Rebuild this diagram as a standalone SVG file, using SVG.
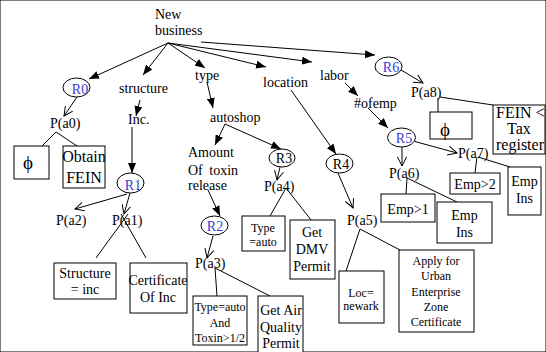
<svg xmlns="http://www.w3.org/2000/svg" width="546" height="352" viewBox="0 0 546 352">
<defs>
<marker id="fa" markerWidth="10" markerHeight="8" refX="10" refY="4" orient="auto" markerUnits="userSpaceOnUse"><path d="M0,0 L10,4 L0,8 z" fill="#000"/></marker>
<marker id="oa" markerWidth="10" markerHeight="10" refX="9" refY="5" orient="auto" markerUnits="userSpaceOnUse"><path d="M0,0.5 L9,5 L0,9.5" fill="none" stroke="#000" stroke-width="1"/></marker>
</defs>
<style>
text{font-family:"Liberation Serif","Times New Roman",serif;font-size:14px;fill:#000}
.s{font-size:12px}
.b{font-size:16px}
.r{fill:#3a3ad6}
.m{text-anchor:middle}
.phi{font-size:19px;text-anchor:middle}
ellipse,rect{fill:#fff;stroke:#000;stroke-width:1}
line{stroke:#000;stroke-width:1}
.f{marker-end:url(#fa)}
.o{marker-end:url(#oa)}
</style>
<rect width="546" height="352" fill="#fff"/>
<g id="connectors">
<line class="f" x1="168" y1="43" x2="89" y2="79"/>
<line class="f" x1="168" y1="43" x2="143" y2="75"/>
<line class="f" x1="168" y1="43" x2="205" y2="68"/>
<line class="f" x1="168" y1="43" x2="266" y2="67"/>
<line class="f" x1="168" y1="43" x2="312" y2="62"/>
<line class="f" x1="201" y1="42" x2="375" y2="55"/>
<line class="o" x1="77" y1="97" x2="64" y2="116"/>
<line x1="56" y1="132" x2="42" y2="146"/>
<line x1="56" y1="132" x2="77" y2="146"/>
<line class="f" x1="140" y1="100" x2="136" y2="116"/>
<line class="f" x1="132" y1="127" x2="132" y2="173"/>
<line class="o" x1="127" y1="194" x2="75" y2="209"/>
<line class="o" x1="130" y1="193" x2="124" y2="214"/>
<line x1="128" y1="214" x2="96" y2="258"/>
<line x1="121" y1="214" x2="146" y2="258"/>
<line class="f" x1="207" y1="82" x2="213" y2="108"/>
<line class="f" x1="225" y1="124" x2="215" y2="145"/>
<line class="f" x1="225" y1="124" x2="281" y2="149"/>
<line class="f" x1="208" y1="190" x2="220" y2="216"/>
<line class="o" x1="213" y1="236" x2="207" y2="258"/>
<line x1="215" y1="268" x2="217" y2="296"/>
<line x1="215" y1="268" x2="270" y2="296"/>
<line class="o" x1="280" y1="167" x2="277" y2="180"/>
<line x1="286" y1="188" x2="270" y2="216"/>
<line x1="286" y1="188" x2="311" y2="220"/>
<line class="f" x1="291" y1="90" x2="336" y2="154"/>
<line class="o" x1="338" y1="173" x2="353" y2="208"/>
<line x1="360" y1="229" x2="346" y2="271"/>
<line x1="360" y1="229" x2="400" y2="250"/>
<line class="o" x1="401" y1="70" x2="423" y2="83"/>
<line x1="438" y1="98" x2="438" y2="112"/>
<line x1="440" y1="97" x2="493" y2="105"/>
<line class="f" x1="345" y1="83" x2="358" y2="96"/>
<line class="f" x1="368" y1="108" x2="388" y2="128"/>
<line class="o" x1="402" y1="147" x2="402" y2="166"/>
<line class="o" x1="413" y1="141" x2="457" y2="153"/>
<line x1="477" y1="157" x2="475" y2="173"/>
<line x1="478" y1="157" x2="510" y2="167"/>
<line x1="407" y1="178" x2="406" y2="194"/>
<line x1="407" y1="178" x2="457" y2="202"/>
</g>
<g id="root"><text x="155" y="18.5">New</text><text x="155" y="35">business</text></g>
<g id="R0"><ellipse cx="76.5" cy="87.5" rx="13.5" ry="9.5"/><text class="r m" x="80" y="94">R0</text></g>
<g id="Pa0"><text x="50" y="128">P(a0)</text></g>
<g id="phi1"><rect x="14" y="146" width="35" height="33"/><text class="phi" x="28" y="169">ϕ</text></g>
<g id="obtainFEIN"><rect x="63" y="146" width="42" height="42"/><text class="b m" x="84" y="162">Obtain</text><text class="b m" x="84" y="183">FEIN</text></g>
<g id="structure"><text x="119" y="93">structure</text></g>
<g id="inc"><text x="128" y="124">Inc.</text></g>
<g id="R1"><ellipse cx="130.5" cy="183" rx="13.5" ry="10"/><text class="r m" x="133" y="190">R1</text></g>
<g id="Pa2"><text x="56" y="225">P(a2)</text></g>
<g id="Pa1"><text x="112" y="225">P(a1)</text></g>
<g id="structInc"><rect x="54" y="263" width="62" height="36"/><text class="m" x="85" y="278">Structure</text><text class="m" x="85" y="294">= inc</text></g>
<g id="certInc"><rect x="130" y="263" width="57" height="50"/><text class="m" x="158" y="285">Certificate</text><text class="m" x="158" y="302">Of Inc</text></g>
<g id="type"><text x="195" y="80">type</text></g>
<g id="autoshop"><text x="210" y="122">autoshop</text></g>
<g id="amount"><text x="188" y="157">Amount</text><text x="188" y="175" word-spacing="3">Of toxin</text><text x="188" y="190">release</text></g>
<g id="R2"><ellipse cx="214.5" cy="225.5" rx="13.5" ry="9.5"/><text class="r m" x="215" y="231">R2</text></g>
<g id="Pa3"><text x="195" y="268">P(a3)</text></g>
<g id="typeToxin"><rect x="193" y="296" width="54" height="49"/><text class="s m" x="220" y="311">Type=auto</text><text class="s m" x="220" y="327">And</text><text class="s m" x="220" y="342">Toxin&gt;1/2</text></g>
<g id="airPermit"><rect x="258" y="296" width="45" height="62"/><text class="m" x="281" y="315">Get Air</text><text class="m" x="281" y="332">Quality</text><text class="m" x="281" y="348">Permit</text></g>
<g id="R3"><ellipse cx="282" cy="158" rx="13" ry="9"/><text class="m" x="284" y="163">R3</text></g>
<g id="Pa4"><text x="264" y="191">P(a4)</text></g>
<g id="typeAuto"><rect x="242" y="216" width="43" height="35"/><text class="s m" x="263" y="232">Type</text><text class="s m" x="263" y="246">=auto</text></g>
<g id="dmvPermit"><rect x="290" y="220" width="45" height="59"/><text class="m" x="312" y="237">Get</text><text class="m" x="312" y="254">DMV</text><text class="m" x="312" y="271">Permit</text></g>
<g id="location"><text x="263" y="87">location</text></g>
<g id="R4"><ellipse cx="339.5" cy="163.5" rx="13.5" ry="9.5"/><text class="m" x="341" y="169">R4</text></g>
<g id="Pa5"><text x="347" y="225">P(a5)</text></g>
<g id="locNewark"><rect x="339" y="271" width="45" height="52"/><text class="s m" x="361" y="297">Loc=</text><text class="s m" x="361" y="310">newark</text></g>
<g id="urbanZone"><rect x="399" y="250" width="75" height="82"/><text class="s m" x="436" y="265">Apply for</text><text class="s m" x="436" y="280">Urban</text><text class="s m" x="436" y="296">Enterprise</text><text class="s m" x="436" y="311">Zone</text><text class="s m" x="436" y="326">Certificate</text></g>
<g id="labor"><text x="320" y="80">labor</text></g>
<g id="ofemp"><text x="354" y="108">#ofemp</text></g>
<g id="R6"><ellipse cx="388.5" cy="66.5" rx="13.5" ry="9.5"/><text class="r m" x="391" y="72">R6</text></g>
<g id="Pa8"><text x="411" y="97">P(a8)</text></g>
<g id="phi2"><rect x="430" y="112" width="42" height="27"/><text class="phi" x="445" y="136">ϕ</text></g>
<g id="feinTax"><rect x="493" y="105" width="52" height="49"/><text class="b" x="496" y="118">FEIN &lt;</text><text class="b m" x="519" y="134">Tax</text><text class="b" x="496" y="150">register</text></g>
<g id="R5"><ellipse cx="401.5" cy="137.5" rx="14" ry="9.5"/><text class="r m" x="404" y="143">R5</text></g>
<g id="Pa6"><text x="389" y="178">P(a6)</text></g>
<g id="Pa7"><text x="458" y="158">P(a7)</text></g>
<g id="emp2"><rect x="450" y="173" width="50" height="21"/><text class="m" x="475" y="189">Emp&gt;2</text></g>
<g id="empIns1"><rect x="508" y="167" width="33" height="48"/><text class="m" x="524.5" y="186">Emp</text><text class="m" x="524.5" y="203">Ins</text></g>
<g id="emp1"><rect x="381" y="194" width="54" height="28"/><text class="m" x="408" y="214">Emp&gt;1</text></g>
<g id="empIns2"><rect x="437" y="202" width="55" height="41"/><text class="m" x="464.5" y="220">Emp</text><text class="m" x="464.5" y="237">Ins</text></g>
</svg>
